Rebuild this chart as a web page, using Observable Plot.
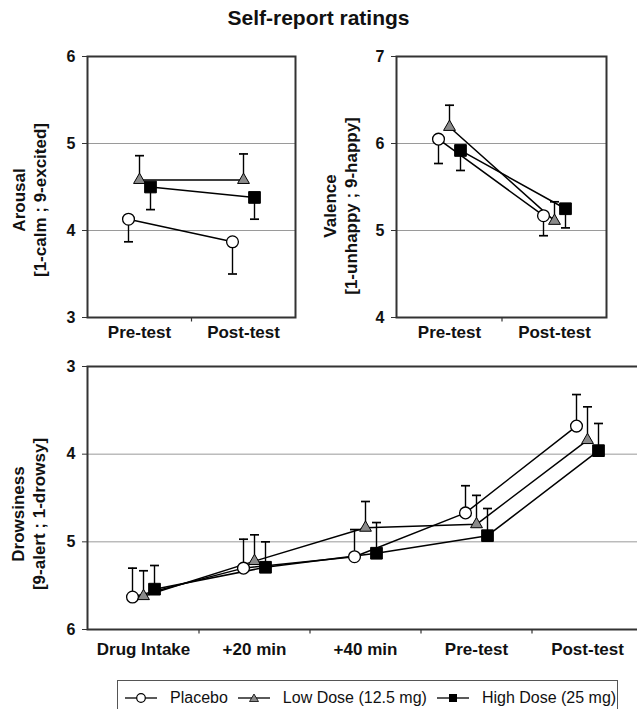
<!DOCTYPE html>
<html>
<head>
<meta charset="utf-8">
<script src="https://cdn.jsdelivr.net/npm/d3@7"></script>
<script src="https://cdn.jsdelivr.net/npm/@observablehq/plot@0.6"></script>
<style>
  html, body { margin: 0; padding: 0; background: white; }
  #root { position: relative; width: 637px; height: 709px; overflow: hidden; font-family: "Liberation Sans", Arial, sans-serif; }
  #title { position: absolute; left: 0; top: 5px; width: 637px; text-align: center; font-size: 21px; font-weight: bold; line-height: 25px; color: #111; }
  .panel { position: absolute; }
  #legend { position: absolute; left: 117px; top: 680px; width: 501px; height: 44px; border: 1px solid #555; box-sizing: border-box; display: flex; align-items: flex-start; padding: 8px 0 0 7px; font-size: 16px; line-height: 18px; color: #111; }
  .item { display: flex; align-items: center; margin-right: 10px; white-space: nowrap; }
  .item svg { margin-right: 13px; }
</style>
</head>
<body>
<div id="root">
  <div id="title">Self-report ratings</div>
  <div class="panel" id="p1" style="left:0;top:0"></div>
  <div class="panel" id="p2" style="left:310px;top:0"></div>
  <div class="panel" id="p3" style="left:0;top:330px"></div>
  <div id="legend"></div>
</div>
<script>
// ---- data ----
const timesTop = ["Pre-test", "Post-test"];
const timesBottom = ["Drug Intake", "+20 min", "+40 min", "Pre-test", "Post-test"];
const groups = ["Placebo", "Low Dose (12.5 mg)", "High Dose (25 mg)"];

const arousalPlacebo = [4.13, 3.87];
const arousalPlaceboErr = [0.26, 0.37];
const arousalLow = [4.58, 4.58];
const arousalLowErr = [0.28, 0.30];
const arousalHigh = [4.50, 4.38];
const arousalHighErr = [0.26, 0.25];

const valencePlacebo = [6.05, 5.17];
const valencePlaceboErr = [0.28, 0.23];
const valenceLow = [6.19, 5.11];
const valenceLowErr = [0.25, 0.22];
const valenceHigh = [5.92, 5.25];
const valenceHighErr = [0.23, 0.22];

const drowsPlacebo = [5.63, 5.30, 5.17, 4.67, 3.68];
const drowsPlaceboErr = [0.33, 0.33, 0.31, 0.31, 0.36];
const drowsLow = [5.62, 5.22, 4.84, 4.80, 3.84];
const drowsLowErr = [0.29, 0.30, 0.30, 0.33, 0.38];
const drowsHigh = [5.54, 5.29, 5.13, 4.93, 3.96];
const drowsHighErr = [0.27, 0.29, 0.35, 0.31, 0.31];

// direction of the drawn error bar (one-sided) per group
const topErrDir = [-1, 1, -1];
const bottomErrDir = [-1, -1, -1];

const arousalTicks = [3, 4, 5, 6];
const valenceTicks = [4, 5, 6, 7];
const drowsTicks = [3, 4, 5, 6];

// ---- styles ----
const groupDx = [-11, 0, 11];
const markerStyle = [
  {symbol: "circle", r: 5.9, fill: "white", stroke: "black", strokeWidth: 1.3},
  {symbol: "triangle", r: 4.4, fill: "#8a8a8a", stroke: "black", strokeWidth: 1},
  {symbol: "square", r: 6.6, fill: "black", stroke: "black", strokeWidth: 1}
];
const capSymbol = {draw(ctx) { ctx.moveTo(-4.5, 0); ctx.lineTo(4.5, 0); }};
const vtickSymbol = {draw(ctx) { ctx.moveTo(0, 0); ctx.lineTo(0, 4); }};

function buildRows(times, means, errs, dir) {
  return times.map((t, i) => ({t, m: means[i], e: means[i] + dir * errs[i]}));
}

function panel({times, series, dirs, domain, reverse, ticks, width, height, mt, ml, mr, mb, labels, labelDx, labelDy, xPad}) {
  const plotW = width - ml - mr;
  const step = plotW / times.length;
  const labelOpts = {frameAnchor: "left", dy: labelDy, rotate: -90, textAnchor: "middle", lineAnchor: "middle", text: d => d, fontSize: 17, fontWeight: "bold", fill: "#111"};
  const marks = [
    Plot.gridY(ticks.filter(v => v !== domain[0] && v !== domain[1]), {stroke: "#9a9a9a", strokeOpacity: 1, strokeWidth: 1}),
    Plot.frame({stroke: "#333", strokeWidth: 2}),
    Plot.axisY(ticks, {tickSize: 5, tickPadding: 7, fontSize: 16, fontWeight: "bold", label: null, tickFormat: d => String(d), stroke: "#333"}),
    Plot.axisX({tickSize: 0, tickPadding: xPad, fontSize: 17, fontWeight: "bold", label: null}),
    Plot.dot(times.slice(0, -1), {x: d => d, y: () => reverse ? domain[1] : domain[0], dx: step / 2, symbol: vtickSymbol, stroke: "#333", fill: "none", strokeWidth: 1.2}),
    Plot.text([labels[0]], {...labelOpts, dx: labelDx[0]}),
    Plot.text([labels[1]], {...labelOpts, dx: labelDx[1]})
  ];
  const data = series.map(([means, errs], g) => buildRows(times, means, errs, dirs[g]));
  data.forEach((rows, g) => {
    marks.push(Plot.ruleX(rows, {x: "t", y1: "m", y2: "e", dx: groupDx[g], stroke: "black", strokeWidth: 1.4}));
    marks.push(Plot.dot(rows, {x: "t", y: "e", dx: groupDx[g], symbol: capSymbol, stroke: "black", fill: "none", strokeWidth: 1.7}));
  });
  data.forEach((rows, g) => {
    marks.push(Plot.line(rows, {x: "t", y: "m", dx: groupDx[g], stroke: "black", strokeWidth: 1.5}));
  });
  data.forEach((rows, g) => {
    marks.push(Plot.dot(rows, {x: "t", y: "m", dx: groupDx[g], ...markerStyle[g]}));
  });
  return Plot.plot({
    width, height,
    marginTop: mt, marginLeft: ml, marginRight: mr, marginBottom: mb,
    style: {background: "transparent", maxWidth: "none", overflow: "visible", fontFamily: "'Liberation Sans', Arial, sans-serif", color: "#111"},
    x: {type: "point", domain: times, padding: 0.5},
    y: {domain, reverse, ticks},
    marks
  });
}

document.getElementById("p1").appendChild(panel({
  times: timesTop,
  series: [[arousalPlacebo, arousalPlaceboErr], [arousalLow, arousalLowErr], [arousalHigh, arousalHighErr]],
  dirs: topErrDir, domain: [3, 6], reverse: false, ticks: arousalTicks,
  width: 310, height: 345, mt: 56, ml: 87, mr: 15, mb: 28,
  labels: ["Arousal", "[1-calm ; 9-excited]"], labelDx: [-68, -47], labelDy: 13, xPad: 8
}));

document.getElementById("p2").appendChild(panel({
  times: timesTop,
  series: [[valencePlacebo, valencePlaceboErr], [valenceLow, valenceLowErr], [valenceHigh, valenceHighErr]],
  dirs: topErrDir, domain: [4, 7], reverse: false, ticks: valenceTicks,
  width: 310, height: 345, mt: 56, ml: 86, mr: 14, mb: 28,
  labels: ["Valence", "[1-unhappy ; 9-happy]"], labelDx: [-66, -45], labelDy: 19, xPad: 8
}));

document.getElementById("p3").appendChild(panel({
  times: timesBottom,
  series: [[drowsPlacebo, drowsPlaceboErr], [drowsLow, drowsLowErr], [drowsHigh, drowsHighErr]],
  dirs: bottomErrDir, domain: [3, 6], reverse: true, ticks: drowsTicks,
  width: 642, height: 339, mt: 36, ml: 87, mr: 0, mb: 40,
  labels: ["Drowsiness", "[9-alert ; 1-drowsy]"], labelDx: [-69, -48], labelDy: 16, xPad: 13
}));

// ---- legend ----
const legendSym = [
  '<circle cx="16" cy="7" r="4.3" fill="white" stroke="black" stroke-width="1.2"/>',
  '<path d="M16,3 L20.5,10.5 L11.5,10.5 Z" fill="#8a8a8a" stroke="black" stroke-width="0.8"/>',
  '<rect x="12" y="3" width="8" height="8" fill="black"/>'
];
const legend = document.getElementById("legend");
groups.forEach((name, g) => {
  const item = document.createElement("div");
  item.className = "item";
  item.innerHTML = `<svg width="32" height="14"><line x1="0" y1="7" x2="32" y2="7" stroke="black" stroke-width="1.3"/>${legendSym[g]}</svg><span>${name}</span>`;
  legend.appendChild(item);
});
</script>
</body>
</html>
